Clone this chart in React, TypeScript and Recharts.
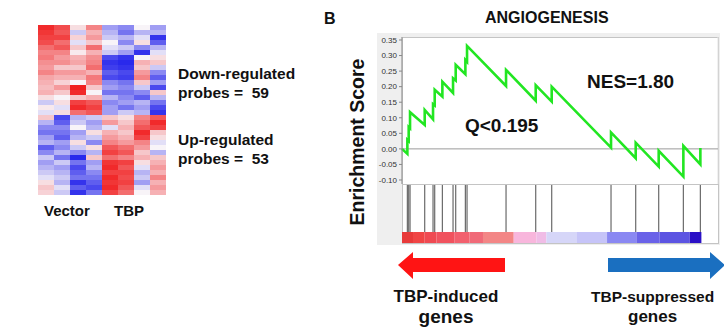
import {
  BarChart, Bar, Cell, XAxis, YAxis, ComposedChart, Line, CartesianGrid, ReferenceLine, ReferenceArea,
} from 'recharts';

const FONT = '"Liberation Sans", Arial, sans-serif';

// heatmap: 8 samples, rows top -> bottom (value > 0 red, < 0 blue)
const sampleNames = ['V1', 'V2', 'V3', 'V4', 'T1', 'T2', 'T3', 'T4'];
const vec1 = [0.9, 0.85, 0.8, 0.75, 0.6, 0.5, 0.55, 0.45, 0.4, 0.5, 0.35, 0.3, 0.25, 0.3, 0.1, -0.2, 0.05,
  -0.1, 0.2, -0.3, -0.5, -0.6, -0.4, -0.3, -0.7, -0.5, -0.2, -0.4, -0.3, -0.2, -0.1, 0.1, 0.2, 0.15];
const vec2 = [0.75, 0.7, 0.8, 0.6, 0.7, 0.5, 0.4, 0.45, 0.2, 0.4, 0.3, 0.15, 0.4, 0.2, 0.0, 0.1, -0.1,
  0.1, -0.8, -0.7, -0.5, -0.6, -0.7, -0.4, -0.5, -0.3, -0.6, -0.2, -0.4, -0.3, -0.2, -0.3, -0.1, -0.2];
const vec3 = [0.1, -0.2, 0.15, -0.1, 0.2, 0.05, 0.3, 0.35, 0.2, 0.4, 0.3, 0.0, 0.95, 0.9, 0.2, 0.8, 0.9,
  0.6, -0.3, -0.2, 0.0, -0.4, -0.3, 0.1, -0.2, -0.5, -0.95, -0.6, -0.8, -0.7, -0.6, -0.9, -0.7, -0.9];
const vec4 = [0.5, 0.3, 0.4, 0.2, 0.6, 0.3, 0.45, 0.5, 0.6, 0.3, 0.55, 0.5, 0.2, 0.0, 0.3, 0.7, 0.8,
  0.7, -0.2, -0.4, -0.3, 0.1, -0.2, -0.5, 0.1, -0.3, 0.2, -0.4, -0.3, -0.5, -0.6, -0.7, -0.8, -0.6];
const tbp1 = [-0.4, -0.3, -0.2, 0.0, -0.1, -0.2, -0.8, -0.9, -0.85, -0.7, -0.8, -0.5, -0.4, -0.6, -0.3, -0.5, -0.4,
  -0.4, 0.2, 0.4, -0.1, 0.3, 0.4, 0.5, 0.7, 0.8, 0.6, 0.85, 0.9, 0.8, 0.9, 0.85, 0.9, 0.8];
const tbp2 = [-0.5, -0.6, -0.3, -0.5, -0.2, -0.4, -0.9, -0.95, -0.9, -0.8, -0.85, -0.6, -0.5, -0.6, -0.5, -0.4, -0.6,
  -0.2, 0.1, 0.2, 0.3, 0.2, 0.3, 0.4, 0.6, 0.7, 0.5, 0.8, 0.7, 0.8, 0.75, 0.8, 0.7, 0.6];
const tbp3 = [0.0, -0.3, -0.1, 0.1, -0.5, -0.9, 0.0, 0.3, 0.2, 0.4, 0.5, 0.2, -0.2, -0.5, -0.7, -0.3, -0.4,
  -0.3, 0.5, 0.6, 0.7, 0.9, 0.8, 0.5, 0.4, 0.2, 0.3, 0.1, -0.1, -0.3, -0.2, -0.4, -0.1, 0.0];
const tbp4 = [-0.4, -0.3, -0.9, -0.7, -0.3, -0.1, 0.1, 0.2, -0.2, -0.5, -0.7, -0.4, -0.8, 0.2, -0.3, -0.6, -0.8,
  -0.9, 0.7, 0.9, 0.8, 0.2, 0.1, -0.1, 0.0, -0.3, 0.2, 0.3, 0.4, 0.3, 0.5, 0.3, 0.4, 0.3];
const heatCols = [vec1, vec2, vec3, vec4, tbp1, tbp2, tbp3, tbp4];

// GSEA running enrichment score
const hitRanks = [312, 390, 468, 1322, 1807, 1904, 2351, 2972, 3127, 3690, 3787, 6058, 7786, 8717,
  12171, 13608, 14947, 16383, 17373];
const esBefore = [-0.016, 0.025, 0.066, 0.077, 0.095, 0.14, 0.168, 0.18, 0.22, 0.24, 0.28, 0.202, 0.155, 0.152,
  0.004, -0.03, -0.057, -0.089, -0.05];
const esAfter = [0.029, 0.07, 0.118, 0.125, 0.144, 0.19, 0.216, 0.227, 0.27, 0.286, 0.331, 0.254, 0.205, 0.2,
  0.053, 0.02, -0.006, 0.01, 0.003];
const esTicks = [-0.1, -0.05, 0, 0.05, 0.1, 0.15, 0.2, 0.25, 0.3, 0.35];
const gridRanks = [2000, 4000, 6000, 8000, 10000, 12000, 14000, 16000, 18000];

// ranked list colour bar
const barEdges = [0, 642, 1321, 2000, 3067, 3940, 4716, 6505, 7824, 8406, 10153, 11939, 13647, 15006, 16753, 17433];
const barColors = ['#e83a3a', '#f04545', '#ef4a52', '#f0525e', '#f2606e', '#f06a78', '#f38686', '#f8b6dc', '#f0bce6',
  '#d6d6f8', '#c6c4f8', '#8a88f2', '#6a62e8', '#5c54e2', '#2a10c6'];

const ROWS = vec1.length;
const RANK_MAX = 18400;

function heatColor(v: number) {
  const t = Math.min(1, Math.abs(v));
  const base = [248, 244, 248];
  const end = v >= 0 ? [240, 20, 20] : [30, 30, 235];
  const c = base.map((b, i) => Math.round(b + (end[i] - b) * t));
  return `rgb(${c[0]},${c[1]},${c[2]})`;
}

function Heatmap() {
  const data = sampleNames.map(name => {
    const d: Record<string, number | string> = { name };
    for (let r = 0; r < ROWS; r++) d['r' + r] = 1;
    return d;
  });
  const order = Array.from({ length: ROWS }, (_, i) => ROWS - 1 - i);
  return (
    <BarChart width={128} height={170} data={data} margin={{ top: 0, right: 0, bottom: 0, left: 0 }}
      barCategoryGap={0} barGap={0}>
      <XAxis dataKey="name" hide />
      <YAxis hide domain={[0, ROWS]} />
      {order.map(r => (
        <Bar key={r} dataKey={'r' + r} stackId="h" isAnimationActive={false}>
          {heatCols.map((col, j) => <Cell key={j} fill={heatColor(col[r])} />)}
        </Bar>
      ))}
    </BarChart>
  );
}

function EsPlot() {
  const data: { rank: number; es: number }[] = [{ rank: 0, es: 0 }];
  hitRanks.forEach((r, i) => {
    data.push({ rank: r, es: esBefore[i] });
    data.push({ rank: r, es: esAfter[i] });
  });
  return (
    <ComposedChart width={343} height={151} data={data} margin={{ top: 4, right: 2, bottom: 0, left: 0 }}>
      <CartesianGrid horizontal={false} stroke="#e2e2e2" />
      <XAxis type="number" dataKey="rank" domain={[0, RANK_MAX]} ticks={gridRanks} height={0}
        tick={false} tickLine={false} axisLine={false} />
      <YAxis type="number" width={25} domain={[-0.1129, 0.3596]} ticks={esTicks} interval={0}
        tickFormatter={(v: number) => v.toFixed(2)} tickSize={3}
        tick={{ fontSize: 8, fill: '#333', fontFamily: FONT }}
        stroke="#888" allowDataOverflow />
      <ReferenceLine y={0} stroke="#9a9a9a" />
      <Line type="linear" dataKey="es" stroke="#22e622" strokeWidth={2.6} dot={false} isAnimationActive={false} />
    </ComposedChart>
  );
}

function HitPlot() {
  const data = hitRanks.map(r => ({ rank: r, v: 0.5 }));
  const barTop = 0.186;
  return (
    <ComposedChart width={316} height={59} data={data} margin={{ top: 0, right: 0, bottom: 0, left: 0 }}>
      <XAxis type="number" dataKey="rank" domain={[0, RANK_MAX]} height={0}
        tick={false} tickLine={false} axisLine={false} />
      <YAxis type="number" domain={[0, 1]} width={0} tick={false} tickLine={false} axisLine={false} />
      <Line dataKey="v" stroke="none" dot={false} isAnimationActive={false} />
      {barColors.map((c, i) => (
        <ReferenceArea key={i} x1={barEdges[i]} x2={barEdges[i + 1]} y1={0} y2={barTop}
          fill={c} fillOpacity={1} stroke="none" ifOverflow="visible" />
      ))}
      {hitRanks.map((r, i) => (
        <ReferenceLine key={i} segment={[{ x: r, y: barTop }, { x: r, y: 0.985 }]}
          stroke="#6a6a6a" strokeWidth={1.2} ifOverflow="visible" />
      ))}
    </ComposedChart>
  );
}

const abs = (left: number, top: number, extra: React.CSSProperties = {}): React.CSSProperties => ({
  position: 'absolute', left, top, ...extra,
});

export default function App() {
  const bold: React.CSSProperties = { fontFamily: FONT, fontWeight: 700, color: '#111', whiteSpace: 'nowrap', lineHeight: 1 };
  return (
    <div style={{ position: 'absolute', left: 0, top: 0, width: 724, height: 330, background: '#fff', overflow: 'hidden' }}>
      <div style={abs(38, 25)}><Heatmap /></div>
      <div style={{ ...abs(44, 203), ...bold, fontSize: 15 }}>Vector</div>
      <div style={{ ...abs(114, 203), ...bold, fontSize: 15 }}>TBP</div>
      <div style={{ ...abs(178, 64), ...bold, fontSize: 15.5, lineHeight: '19px' }}>Down-regulated<br />probes =&nbsp; 59</div>
      <div style={{ ...abs(178, 130), ...bold, fontSize: 15.5, lineHeight: '19px' }}>Up-regulated<br />probes =&nbsp; 53</div>

      <div style={{ ...abs(324, 11), ...bold, fontSize: 16 }}>B</div>
      <div style={{ ...abs(485, 10), ...bold, fontSize: 16 }}>ANGIOGENESIS</div>

      <div style={abs(377, 33, { width: 343, height: 212, background: '#efefef' })} />
      <div style={abs(402, 37, { width: 315, height: 146, background: '#fff', border: '1px solid #c4c4c4' })} />
      <div style={abs(402, 184, { width: 315, height: 58, background: '#fff', border: '1px solid #c4c4c4' })} />
      <div style={abs(377, 33)}><EsPlot /></div>
      <div style={abs(402, 184)}><HitPlot /></div>

      <div style={{ ...abs(358, 142), ...bold, fontSize: 19.5, transform: 'translate(-50%, -50%) rotate(-90deg)' }}>Enrichment Score</div>
      <div style={{ ...abs(465, 116), ...bold, fontSize: 19 }}>Q&lt;0.195</div>
      <div style={{ ...abs(587, 72), ...bold, fontSize: 19 }}>NES=1.80</div>

      <svg style={abs(0, 0)} width={724} height={330}>
        <polygon points="398,265 413,252 413,258 505,258 505,272 413,272 413,279" fill="#ff1414" />
        <polygon points="608,258 710,258 710,252 725,265 710,279 710,272 608,272" fill="#1a6fc0" />
      </svg>
      <div style={{ ...abs(446, 287), ...bold, fontSize: 17, transform: 'translateX(-50%)', textAlign: 'center', lineHeight: '20px' }}>
        TBP-induced<br /><span style={{ fontSize: 19 }}>genes</span>
      </div>
      <div style={{ ...abs(591, 287), ...bold, fontSize: 15.5, textAlign: 'center', lineHeight: '20px' }}>
        TBP-suppressed<br /><span style={{ fontSize: 17 }}>genes</span>
      </div>
    </div>
  );
}
